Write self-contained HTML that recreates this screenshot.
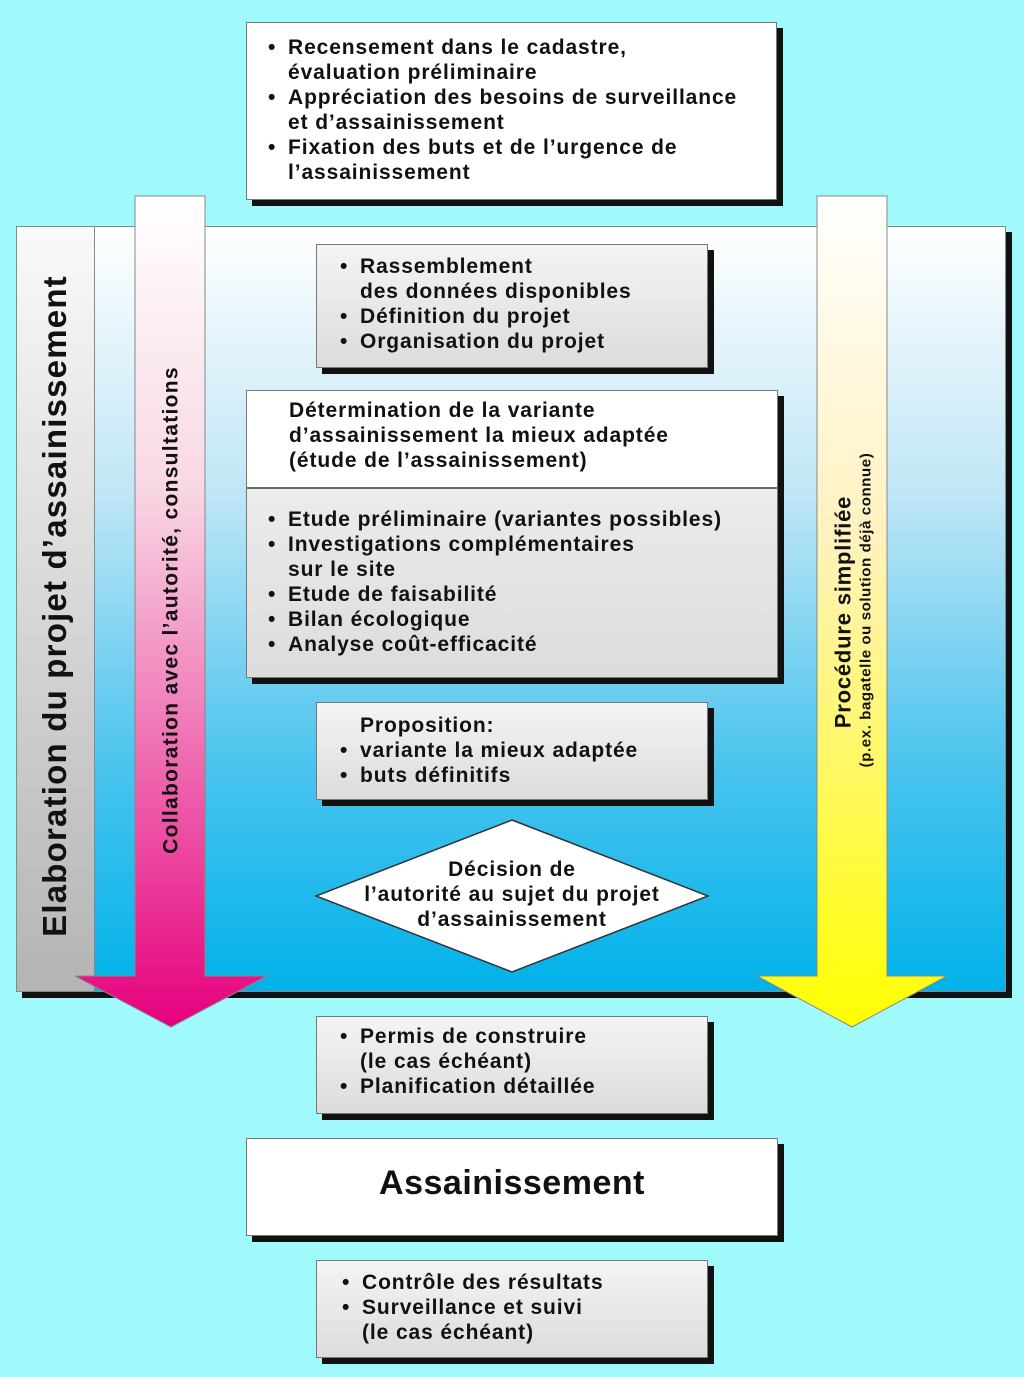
<!DOCTYPE html>
<html><head><meta charset="utf-8"><style>
*{margin:0;padding:0;box-sizing:border-box}
body{width:1024px;height:1377px;background:#a0fafc;position:relative;overflow:hidden;font-family:"Liberation Sans",sans-serif;font-weight:bold;color:#111}
.a{position:absolute}
.box{position:absolute;border:1px solid #777;box-shadow:6px 6px 0 #111}
.w{background:#fff}
.g{background:linear-gradient(#f4f4f4,#dcdcdc)}
.t{position:absolute;font-size:21px;line-height:25px;letter-spacing:0.9px;white-space:nowrap}
.t div{position:relative;padding-left:20px}
.t b{position:absolute;left:0;top:0}
</style></head><body>

<div class="a" style="left:16px;top:226px;width:990px;height:766px;background:linear-gradient(#ffffff 0%,#bfe6f6 35%,#4cc4ee 70%,#00b2ea 100%);border:1px solid #888;box-shadow:6px 6px 0 #111"></div>
<div class="a" style="left:16px;top:226px;width:79px;height:766px;background:linear-gradient(#fafafa,#b4b4b4);border:1px solid #888"></div>
<div class="t" style="left:55px;top:606px;font-size:33px;line-height:36px;letter-spacing:1.2px;transform:translate(-50%,-50%) rotate(-90deg)">Elaboration du projet d’assainissement</div>

<svg class="a" style="left:0;top:0" width="1024" height="1377">
<defs>
<linearGradient id="pk" x1="0" y1="196" x2="0" y2="1027" gradientUnits="userSpaceOnUse"><stop offset="0" stop-color="#ffffff"/><stop offset="0.35" stop-color="#f8d8e4"/><stop offset="1" stop-color="#e6007e"/></linearGradient>
<linearGradient id="yl" x1="0" y1="196" x2="0" y2="1027" gradientUnits="userSpaceOnUse"><stop offset="0" stop-color="#ffffff"/><stop offset="0.4" stop-color="#fff2c0"/><stop offset="1" stop-color="#ffff00"/></linearGradient>
</defs>
<polygon points="135,196 205,196 205,976 267,976 171,1027 75,976 135,976" fill="url(#pk)" stroke="#888" stroke-width="1"/>
<polygon points="817,196 887,196 887,976 947,976 852,1027 757,976 817,976" fill="url(#yl)" stroke="#888" stroke-width="1"/>
<polygon points="512,820 708,896 512,972 316,896" fill="#fff" stroke="#333" stroke-width="1.5"/>
</svg>
<div class="t" style="left:171px;top:610px;font-size:21px;letter-spacing:1.3px;transform:translate(-50%,-50%) rotate(-90deg)">Collaboration avec l’autorité, consultations</div>
<div class="t" style="left:843px;top:612px;font-size:22px;letter-spacing:0.8px;transform:translate(-50%,-50%) rotate(-90deg)">Procédure simplifiée</div>
<div class="t" style="left:866px;top:610px;font-size:15px;line-height:17px;letter-spacing:0.6px;transform:translate(-50%,-50%) rotate(-90deg)">(p.ex. bagatelle ou solution déjà connue)</div>

<div class="box w" style="left:246px;top:22px;width:531px;height:178px"></div>
<div class="t" style="left:268px;top:35px"><div><b>•</b>Recensement dans le cadastre,<br>évaluation préliminaire</div><div><b>•</b>Appréciation des besoins de surveillance<br>et d’assainissement</div><div><b>•</b>Fixation des buts et de l’urgence de<br>l’assainissement</div></div>

<div class="box g" style="left:316px;top:244px;width:392px;height:124px"></div>
<div class="t" style="left:340px;top:254px"><div><b>•</b>Rassemblement<br>des données disponibles</div><div><b>•</b>Définition du projet</div><div><b>•</b>Organisation du projet</div></div>

<div class="box g" style="left:246px;top:390px;width:532px;height:288px"></div>
<div class="a" style="left:247px;top:391px;width:530px;height:98px;background:#fff;border-bottom:2px solid #666"></div>
<div class="t" style="left:289px;top:398px">Détermination de la variante<br>d’assainissement la mieux adaptée<br>(étude de l’assainissement)</div>
<div class="t" style="left:268px;top:507px"><div><b>•</b>Etude préliminaire (variantes possibles)</div><div><b>•</b>Investigations complémentaires<br>sur le site</div><div><b>•</b>Etude de faisabilité</div><div><b>•</b>Bilan écologique</div><div><b>•</b>Analyse coût-efficacité</div></div>

<div class="box g" style="left:316px;top:702px;width:392px;height:98px"></div>
<div class="t" style="left:340px;top:713px"><div>Proposition:</div><div><b>•</b>variante la mieux adaptée</div><div><b>•</b>buts définitifs</div></div>

<div class="t" style="left:512px;top:857px;transform:translateX(-50%);text-align:center">Décision de<br>l’autorité au sujet du projet<br>d’assainissement</div>

<div class="box g" style="left:316px;top:1016px;width:392px;height:98px"></div>
<div class="t" style="left:340px;top:1024px"><div><b>•</b>Permis de construire<br>(le cas échéant)</div><div><b>•</b>Planification détaillée</div></div>

<div class="box w" style="left:246px;top:1138px;width:532px;height:98px"></div>
<div class="t" style="left:512px;top:1163px;transform:translateX(-50%);font-size:34px;line-height:40px;letter-spacing:0.5px">Assainissement</div>

<div class="box g" style="left:316px;top:1260px;width:392px;height:98px"></div>
<div class="t" style="left:342px;top:1270px"><div><b>•</b>Contrôle des résultats</div><div><b>•</b>Surveillance et suivi<br>(le cas échéant)</div></div>

</body></html>
